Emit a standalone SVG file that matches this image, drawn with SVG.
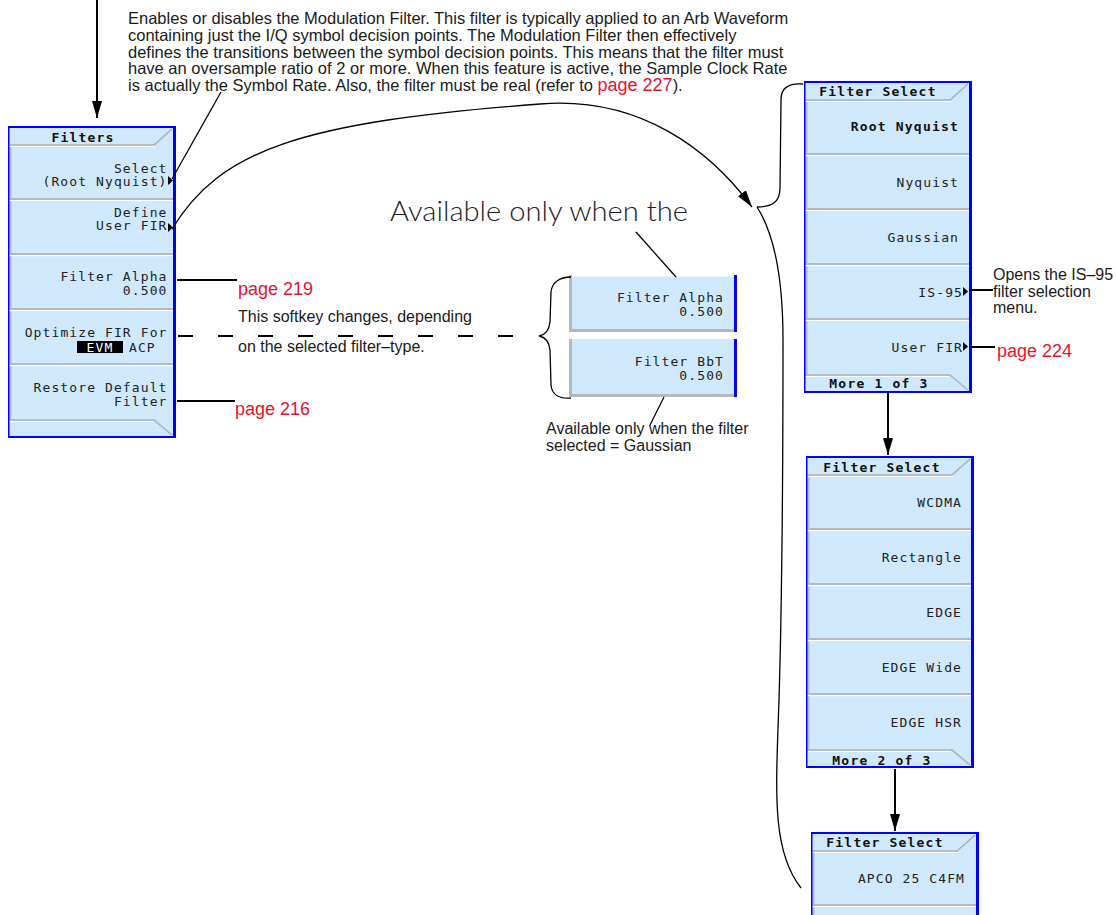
<svg xmlns="http://www.w3.org/2000/svg" xmlns:xlink="http://www.w3.org/1999/xlink" width="1116" height="915" viewBox="0 0 1116 915">
<style>
.sk{font-family:"DejaVu Sans Mono","Liberation Mono",monospace;font-size:13px;letter-spacing:1.1px;fill:#222}
.b{font-weight:bold;fill:#111;letter-spacing:1.2px}
.e{text-anchor:end}
.m{text-anchor:middle}
.ann{font-family:"Liberation Sans",Arial,sans-serif;font-size:16px;fill:#1a1a1a}
.para{font-family:"Liberation Sans",Arial,sans-serif;font-size:16.5px;fill:#1a1a1a}
.red{fill:#e8112d;font-size:18px}
.big{font-family:Lato,"Open Sans",sans-serif;font-weight:300;font-size:28px;fill:#222}
.ln{fill:none;stroke:#000;stroke-width:1.3}
.ln2{fill:none;stroke:#000;stroke-width:2}
.tri{fill:#000}
.sep{fill:#b3babf}
.hi{fill:#fff}
.blue{fill:#0000ff}
.bev{fill:none;stroke:#a9b1b8;stroke-width:1.5}
.bevw{fill:none;stroke:#fff;stroke-width:1}
</style>
<defs>
<marker id="ah" markerWidth="17" markerHeight="10" refX="17" refY="5" orient="auto" markerUnits="userSpaceOnUse"><path d="M0,0 L17,5 L0,10 z" fill="#000"/></marker>
<g id="pbg">
<rect x="0" y="0" width="168" height="312" fill="#cfe8fb"/>
<rect x="1.5" y="19" width="2" height="275" class="sep"/>
<rect x="1" y="72" width="164" height="2" class="sep"/><rect x="1" y="74" width="164" height="1.2" class="hi"/>
<rect x="1" y="127" width="164" height="2" class="sep"/><rect x="1" y="129" width="164" height="1.2" class="hi"/>
<rect x="1" y="182" width="164" height="2" class="sep"/><rect x="1" y="184" width="164" height="1.2" class="hi"/>
<rect x="1" y="237" width="164" height="2" class="sep"/><rect x="1" y="239" width="164" height="1.2" class="hi"/>
<path class="bev" d="M1,19 H146 L164,3"/>
<path class="bevw" d="M1,20.5 H147"/>
<path class="bev" d="M1,294 H146 L164,309"/>
<path class="bevw" d="M1,295.5 H145"/>
<rect x="0" y="0" width="1.5" height="312" class="blue"/>
<rect x="0" y="0" width="168" height="2" class="blue"/>
<rect x="0" y="310" width="168" height="2" class="blue"/>
<rect x="165" y="0" width="3" height="312" class="blue"/>
</g>
</defs>
<rect width="1116" height="915" fill="#fff"/>

<g id="description">
<text class="para" x="128" y="24">Enables or disables the Modulation Filter. This filter is typically applied to an Arb Waveform</text>
<text class="para" x="128" y="41">containing just the I/Q symbol decision points. The Modulation Filter then effectively</text>
<text class="para" x="128" y="57.5">defines the transitions between the symbol decision points. This means that the filter must</text>
<text class="para" x="128" y="74">have an oversample ratio of 2 or more. When this feature is active, the Sample Clock Rate</text>
<text class="para" x="128" y="91">is actually the Symbol Rate. Also, the filter must be real (refer to <tspan class="red">page 227</tspan>).</text>
</g>

<g id="filters-menu">
<use xlink:href="#pbg" x="8" y="126"/>
<text class="sk b m" x="83" y="142">Filters</text>
<text class="sk e" x="167.5" y="173">Select</text>
<text class="sk e" x="167.5" y="186">(Root Nyquist)</text>
<polygon class="tri" points="168,176 173,180.5 168,185"/>
<text class="sk e" x="167.5" y="217">Define</text>
<text class="sk e" x="167.5" y="230">User FIR</text>
<polygon class="tri" points="168,223 173,227.5 168,232"/>
<text class="sk e" x="167.5" y="281">Filter Alpha</text>
<text class="sk e" x="167.5" y="295">0.500</text>
<text class="sk e" x="167.5" y="337">Optimize FIR For</text>
<rect x="77" y="341" width="46" height="12" fill="#000"/>
<text class="sk m" x="100" y="352" style="fill:#fff">EVM</text>
<text class="sk" x="129" y="352">ACP</text>
<text class="sk e" x="167.5" y="392">Restore Default</text>
<text class="sk e" x="167.5" y="406">Filter</text>
</g>

<g id="filter-select-1">
<use xlink:href="#pbg" x="804" y="81"/>
<text class="sk b m" x="878" y="96">Filter Select</text>
<text class="sk b e" x="959" y="131">Root Nyquist</text>
<text class="sk e" x="959" y="187">Nyquist</text>
<text class="sk e" x="959" y="242">Gaussian</text>
<text class="sk e" x="963" y="297">IS-95</text>
<polygon class="tri" points="963,287 968,291.5 963,296"/>
<text class="sk e" x="963" y="352">User FIR</text>
<polygon class="tri" points="963,342 968,346.5 963,351"/>
<text class="sk b m" x="879" y="388">More 1 of 3</text>
</g>

<g id="filter-select-2">
<use xlink:href="#pbg" x="806" y="456"/>
<text class="sk b m" x="882" y="472">Filter Select</text>
<text class="sk e" x="962" y="507">WCDMA</text>
<text class="sk e" x="962" y="562">Rectangle</text>
<text class="sk e" x="962" y="617">EDGE</text>
<text class="sk e" x="962" y="672">EDGE Wide</text>
<text class="sk e" x="962" y="727">EDGE HSR</text>
<text class="sk b m" x="882" y="765">More 2 of 3</text>
</g>

<g id="filter-select-3">
<use xlink:href="#pbg" x="811" y="832"/>
<text class="sk b m" x="885" y="847">Filter Select</text>
<text class="sk e" x="965" y="883">APCO 25 C4FM</text>
</g>

<g id="alt-softkeys">
<rect x="569" y="275" width="168" height="57" fill="#cfe8fb"/>
<rect x="569" y="275" width="168" height="1.5" class="hi"/>
<rect x="569" y="275" width="3" height="57" class="sep"/>
<rect x="569" y="329" width="168" height="3" class="sep"/>
<rect x="734" y="275" width="3" height="57" class="blue"/>
<text class="sk e" x="724" y="302">Filter Alpha</text>
<text class="sk e" x="724" y="316">0.500</text>
<rect x="569" y="339" width="168" height="58" fill="#cfe8fb"/>
<rect x="569" y="339" width="3" height="58" class="sep"/>
<rect x="569" y="394" width="168" height="3" class="sep"/>
<rect x="734" y="339" width="3" height="58" class="blue"/>
<text class="sk e" x="724" y="366">Filter BbT</text>
<text class="sk e" x="724" y="380">0.500</text>
</g>

<g id="annotations">
<text class="ann red" x="238" y="295">page 219</text>
<text class="ann" x="238" y="322">This softkey changes, depending</text>
<text class="ann" x="238" y="352">on the selected filter–type.</text>
<text class="ann red" x="235" y="415">page 216</text>
<text class="big" x="390" y="221" textLength="298" lengthAdjust="spacingAndGlyphs">Available only when the</text>
<text class="ann" x="546" y="434">Available only when the filter</text>
<text class="ann" x="546" y="451">selected = Gaussian</text>
<text class="ann" x="993" y="280">Opens the IS–95</text>
<text class="ann" x="993" y="297">filter selection</text>
<text class="ann" x="993" y="313">menu.</text>
<text class="ann red" x="997" y="357">page 224</text>
</g>

<g id="connectors">
<line class="ln2" x1="97" y1="0" x2="97" y2="118" marker-end="url(#ah)"/>
<line class="ln" x1="221" y1="92" x2="172" y2="179"/>
<path class="ln" d="M172,229 C220,150 300,122 540,104 C640,96 710,150 752,207" marker-end="url(#ah)"/>
<path class="ln" d="M803,84 C788,83 781,88 781,100 L780,188 C780,202 772,207 757,207"/>
<path class="ln" d="M757,207 C775,235 783,280 783,340 C783,450 782,600 779,700 C776,790 771,850 801,888"/>
<line class="ln2" x1="888" y1="392" x2="888" y2="455" marker-end="url(#ah)"/>
<line class="ln2" x1="895" y1="769" x2="895" y2="831" marker-end="url(#ah)"/>
<line class="ln2" x1="177" y1="280" x2="237" y2="280"/>
<line class="ln2" x1="177" y1="401" x2="235" y2="401"/>
<line class="ln2" x1="969" y1="290" x2="993" y2="290"/>
<line class="ln2" x1="969" y1="347" x2="995" y2="347"/>
<line class="ln2" x1="178" y1="336" x2="538" y2="336" stroke-dasharray="15 25"/>
<path class="ln" d="M571,277 C560,277 552,282 551,292 L550,322 C549,331 545,335 539,336 C545,337 549,341 550,350 L551,385 C552,395 560,399 571,398"/>
<line class="ln" x1="636" y1="232" x2="676" y2="277"/>
<line class="ln" x1="664" y1="397" x2="650" y2="425"/>
</g>
</svg>
